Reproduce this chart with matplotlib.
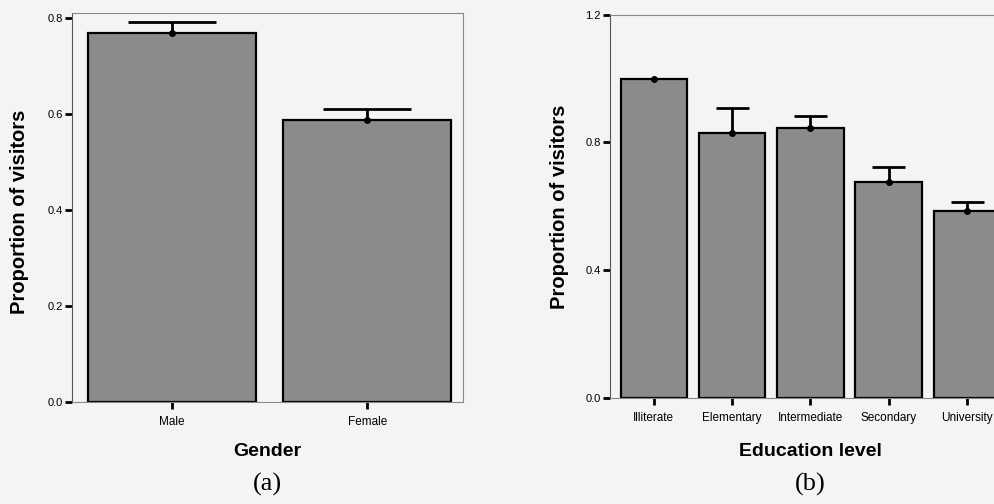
import numpy as np
import matplotlib.pyplot as plt

plt.rcParams['font.family'] = ['Liberation Sans', 'DejaVu Sans']

# panel (a): gender
gender = ['Male', 'Female']
gender_mean = [0.77, 0.587]
gender_upper = [0.793, 0.610]

# panel (b): education level
education = ['Illiterate', 'Elementary', 'Intermediate', 'Secondary', 'University']
edu_mean = [1.0, 0.83, 0.846, 0.677, 0.586]
edu_upper = [1.0, 0.907, 0.883, 0.724, 0.614]

BG = '#f4f4f4'
BAR = '#8b8b8b'


def draw_panel(fig, ax, cats, means, upper, bar_w, cap_w, ylim, yticks, xlim,
               xlabel, tag, ylab_xy, xcenter):
    x = np.arange(len(cats))
    ax.bar(x, means, width=bar_w, color=BAR, edgecolor='black', linewidth=1.6, zorder=2)
    ax.vlines(x, means, upper, color='black', linewidth=2, zorder=3)
    has_err = np.array(upper) > np.array(means)
    ax.hlines(np.array(upper)[has_err], x[has_err] - cap_w / 2, x[has_err] + cap_w / 2,
              color='black', linewidth=2, zorder=3)
    ax.plot(x, means, 'o', color='black', markersize=4, zorder=4)

    ax.set_xlim(*xlim)
    ax.set_ylim(*ylim)
    ax.set_yticks(yticks)
    ax.set_yticklabels([f"{t:.1f}" for t in yticks])
    ax.set_xticks(x)
    ax.set_xticklabels(cats)
    ax.set_facecolor(BG)

    ax.tick_params(axis='y', direction='out', length=5, width=2, pad=1.5, labelsize=8)
    ax.tick_params(axis='x', direction='out', length=5, width=2, pad=5, labelsize=8.5)

    ax.spines['left'].set_color('#555555')
    ax.spines['left'].set_linewidth(0.8)
    for side in ['top', 'right', 'bottom']:
        ax.spines[side].set_color('#888888')
        ax.spines[side].set_linewidth(0.8)
        ax.spines[side].set_linestyle((0, (1, 1)))

    ax.set_ylabel('Proportion of visitors', fontsize=14.5, fontweight='bold')
    ax.yaxis.set_label_coords(ylab_xy[0] / 995, 1 - ylab_xy[1] / 504, transform=fig.transFigure)
    ax.set_xlabel(xlabel, fontsize=14, fontweight='bold')
    ax.xaxis.set_label_coords(xcenter / 995, 1 - 452 / 504, transform=fig.transFigure)
    ax.xaxis.label.set_va('center')
    ax.yaxis.label.set_va('center')
    fig.text(xcenter / 995, 1 - 484 / 504, tag, ha='center', va='center',
             fontsize=19, family='Liberation Serif')


fig = plt.figure(figsize=(9.95, 5.04), dpi=100, facecolor=BG)

ax1 = fig.add_axes([0.0724, 0.2024, 0.393, 0.771])
draw_panel(fig, ax1, gender, gender_mean, gender_upper, 0.86, 0.45,
           (0, 0.81), [0.0, 0.2, 0.4, 0.6, 0.8], (-0.513, 1.49), 'Gender', '(a)',
           (20, 212), 267)

ax2 = fig.add_axes([0.613, 0.2103, 0.403, 0.7605])
draw_panel(fig, ax2, education, edu_mean, edu_upper, 0.85, 0.42,
           (0, 1.2), [0.0, 0.4, 0.8, 1.2], (-0.56, 4.56), 'Education level', '(b)',
           (560, 207), 810)

fig.savefig('out.png', dpi=100, facecolor=BG)
